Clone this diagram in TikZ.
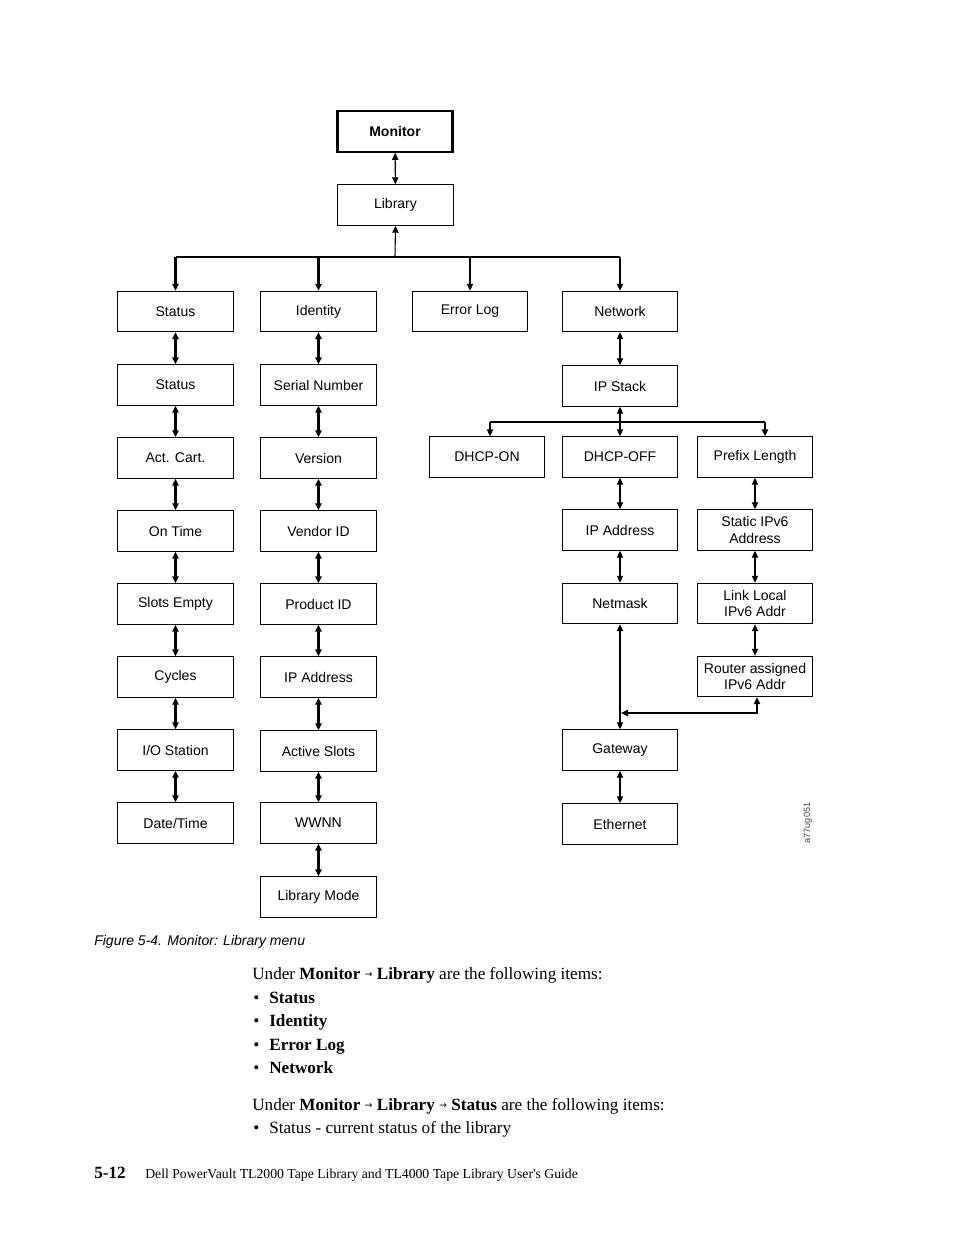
\documentclass[tikz,border=0pt]{standalone}
\usepackage{fontspec}
\setmainfont{Liberation Sans}
\newfontfamily\seriffont{Liberation Serif}
\newfontfamily\symfont{DejaVu Sans}
\usetikzlibrary{arrows.meta}
\newcommand\menuarr{\raisebox{0.9pt}{\symfont\fontsize{6}{6}\selectfont →}}
\begin{document}
\begin{tikzpicture}[x=0.6415pt,y=-0.6415pt,
  >={Triangle[length=4.5pt,width=4pt]},
  box/.style={draw, line width=0.65pt, minimum width=73.8pt, minimum height=25.9pt,
    inner sep=0pt, align=center, font=\fontsize{9}{10.3}\selectfont},
  topbox/.style={box, line width=1.4pt, font=\bfseries\fontsize{9}{10.3}\selectfont},
  thk/.style={line width=1.3pt},
  thn/.style={line width=0.7pt},
  body/.style={anchor=base west, inner sep=0pt, font=\seriffont\fontsize{11}{13}\selectfont},
]
\useasboundingbox (0,0) rectangle (954,1235);

% top
\node[topbox] (mon) at (395,131.5) {Monitor};
\node[box] (lib) at (395.5,205) {Library};

% column 1
\node[box] (s1) at (175.5,311.5) {Status};
\node[box] (s2) at (175.5,385) {Status};
\node[box] (s3) at (175.5,458) {Act. Cart.};
\node[box] (s4) at (175.5,531) {On Time};
\node[box] (s5) at (175.5,604) {Slots Empty};
\node[box] (s6) at (175.5,677) {Cycles};
\node[box] (s7) at (175.5,750) {I/O Station};
\node[box] (s8) at (175.5,823) {Date/Time};

% column 2
\node[box] (i1) at (318.5,311.5) {Identity};
\node[box] (i2) at (318.5,385) {Serial Number};
\node[box] (i3) at (318.5,458) {Version};
\node[box] (i4) at (318.5,531) {Vendor ID};
\node[box] (i5) at (318.5,604) {Product ID};
\node[box] (i6) at (318.5,677) {IP Address};
\node[box] (i7) at (318.5,751) {Active Slots};
\node[box] (i8) at (318.5,823) {WWNN};
\node[box] (i9) at (318.5,897) {Library Mode};

% column 3
\node[box] (err) at (470,311.5) {Error Log};

% network
\node[box] (n1) at (620,311.5) {Network};
\node[box] (n2) at (620,386) {IP Stack};
\node[box] (don) at (487,457) {DHCP-ON};
\node[box] (doff) at (620,457) {DHCP-OFF};
\node[box] (pre) at (755,457) {Prefix Length};
\node[box] (ipa) at (620,530) {IP Address};
\node[box] (st6) at (755,530) {Static IPv6\\Address};
\node[box] (nm) at (620,603.5) {Netmask};
\node[box] (ll6) at (755,603.5) {Link Local\\IPv6 Addr};
\node[box] (ra6) at (755,676.5) {Router assigned\\IPv6 Addr};
\node[box] (gw) at (620,750) {Gateway};
\node[box] (eth) at (620,824) {Ethernet};

% connectors top
\draw[thn,<->] (mon) -- (lib);
\coordinate (bus) at (395,257);
\draw[thn,<-] (lib.south) -- (bus);
\draw[thk] (s1.north |- bus) -- (n1.north |- bus);
\draw[thk,->] (s1.north |- bus) -- (s1.north);
\draw[thk,->] (i1.north |- bus) -- (i1.north);
\draw[thn,->] (err.north |- bus) -- (err.north);
\draw[thk,->] (n1.north |- bus) -- (n1.north);

% column chains
\foreach \a/\b in {s1/s2,s2/s3,s3/s4,s4/s5,s5/s6,s6/s7,s7/s8,
                   i1/i2,i2/i3,i3/i4,i4/i5,i5/i6,i6/i7,i7/i8,i8/i9}
  \draw[thk,<->] (\a) -- (\b);

% network chains
\draw[thn,<->] (n1) -- (n2);
\coordinate (bus2) at (620,422);
\coordinate (bl) at (490,422);
\coordinate (br) at (765,422);
\draw[thk] (bl) -- (br);
\draw[thn,->] (bl) -- (bl |- don.north);
\draw[thk,->] (br) -- (br |- pre.north);
\draw[thn,<->] (n2) -- (doff);
\draw[thn,<->] (doff) -- (ipa);
\draw[thn,<->] (ipa) -- (nm);
\draw[thn,<->] (nm) -- (gw);
\draw[thn,<->] (gw) -- (eth);
\draw[thn,<->] (pre) -- (st6);
\draw[thn,<->] (st6) -- (ll6);
\draw[thn,<->] (ll6) -- (ra6);
\coordinate (j) at (621,713);
\draw[thk,<->] ([xshift=1.3pt]ra6.south) |- (j);

% figure id
\node[rotate=90, inner sep=0pt, font=\fontsize{5.8}{6}\selectfont, text=black!75] (fid) at (808,823) {a77ug051};

% caption
\node[anchor=base west, inner sep=0pt, font=\itshape\fontsize{9}{10}\selectfont] (cap) at (94,945) {Figure 5-4. Monitor: Library menu};

% body text
\node[body] (u1) at (252,979) {Under \textbf{Monitor} \menuarr{} \textbf{Library} are the following items:};
\node[body] (b1) at (253,1003) {•};
\node[body] (t1) at (269,1003) {\textbf{Status}};
\node[body] (b2) at (253,1026) {•};
\node[body] (t2) at (269,1026) {\textbf{Identity}};
\node[body] (b3) at (253,1050) {•};
\node[body] (t3) at (269,1050) {\textbf{Error Log}};
\node[body] (b4) at (253,1073) {•};
\node[body] (t4) at (269,1073) {\textbf{Network}};
\node[body] (u2) at (252,1110) {Under \textbf{Monitor} \menuarr{} \textbf{Library} \menuarr{} \textbf{Status} are the following items:};
\node[body] (b5) at (253,1133) {•};
\node[body] (t5) at (269,1133) {Status - current status of the library};

% footer
\node[anchor=base west, inner sep=0pt, font=\seriffont\bfseries\fontsize{11}{13}\selectfont] (pg) at (94,1178) {5-12};
\node[anchor=base west, inner sep=0pt, font=\seriffont\fontsize{8.8}{10}\selectfont] (ft) at (145,1178) {Dell PowerVault TL2000 Tape Library and TL4000 Tape Library User's Guide};
\end{tikzpicture}
\end{document}
